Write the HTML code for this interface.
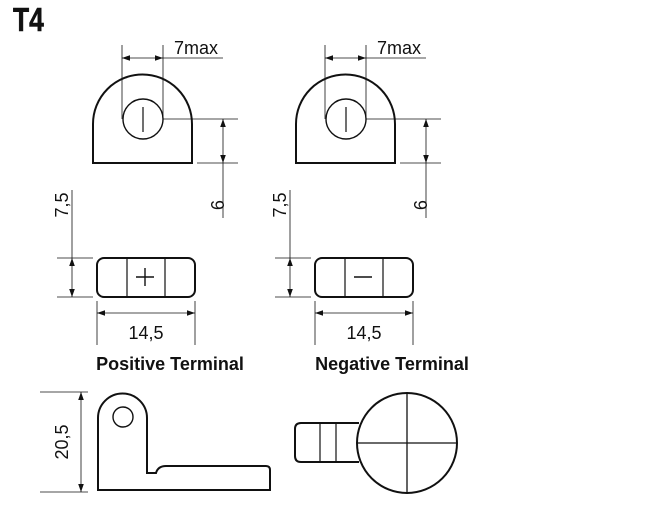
<!DOCTYPE html>
<html><head><meta charset="utf-8"><style>
html,body{margin:0;padding:0;background:#fff;}
svg{display:block;}
text{font-family:"Liberation Sans",sans-serif;fill:#111;}
</style></head><body>
<svg width="650" height="514" viewBox="0 0 650 514" xmlns="http://www.w3.org/2000/svg">
<defs>
<marker id="a" viewBox="0 0 10 10" refX="10" refY="5" markerWidth="8" markerHeight="8" orient="auto-start-reverse" markerUnits="userSpaceOnUse"><path d="M0,1.5 L10,5 L0,8.5z" fill="#111"/></marker>
</defs>
<text x="13" y="31" font-size="33" font-weight="bold" transform="translate(13 0) scale(0.8 1) translate(-13 0)" stroke="#111" stroke-width="0.6">T4</text>

<g id="top" stroke="#111" fill="none">
  <path d="M93,163 L93,124 A49.5,49.5 0 0 1 192,124 L192,163 Z" stroke-width="2"/>
  <circle cx="143" cy="119" r="20" stroke-width="1.4"/>
  <line x1="143" y1="107" x2="143" y2="132" stroke-width="1.2"/>
  <line x1="122" y1="45" x2="122" y2="119" stroke-width="0.8"/>
  <line x1="163" y1="45" x2="163" y2="119" stroke-width="0.8"/>
  <line x1="122" y1="58" x2="163" y2="58" stroke-width="0.8" marker-start="url(#a)" marker-end="url(#a)"/>
  <line x1="163" y1="58" x2="223" y2="58" stroke-width="0.8"/>
  <line x1="163" y1="119" x2="238" y2="119" stroke-width="0.8"/>
  <line x1="197" y1="163" x2="238" y2="163" stroke-width="0.8"/>
  <line x1="223" y1="119" x2="223" y2="163" stroke-width="0.8" marker-start="url(#a)" marker-end="url(#a)"/>
  <line x1="223" y1="163" x2="223" y2="218" stroke-width="0.8"/>
</g>
<text x="174" y="54" font-size="18">7max</text>
<text transform="translate(211 205) rotate(90)" font-size="18" text-anchor="middle">9</text>

<g transform="translate(203 0)" stroke="#111" fill="none">
  <path d="M93,163 L93,124 A49.5,49.5 0 0 1 192,124 L192,163 Z" stroke-width="2"/>
  <circle cx="143" cy="119" r="20" stroke-width="1.4"/>
  <line x1="143" y1="107" x2="143" y2="132" stroke-width="1.2"/>
  <line x1="122" y1="45" x2="122" y2="119" stroke-width="0.8"/>
  <line x1="163" y1="45" x2="163" y2="119" stroke-width="0.8"/>
  <line x1="122" y1="58" x2="163" y2="58" stroke-width="0.8" marker-start="url(#a)" marker-end="url(#a)"/>
  <line x1="163" y1="58" x2="223" y2="58" stroke-width="0.8"/>
  <line x1="163" y1="119" x2="238" y2="119" stroke-width="0.8"/>
  <line x1="197" y1="163" x2="238" y2="163" stroke-width="0.8"/>
  <line x1="223" y1="119" x2="223" y2="163" stroke-width="0.8" marker-start="url(#a)" marker-end="url(#a)"/>
  <line x1="223" y1="163" x2="223" y2="218" stroke-width="0.8"/>
</g>
<text x="377" y="54" font-size="18">7max</text>
<text transform="translate(414 205) rotate(90)" font-size="18" text-anchor="middle">9</text>

<g stroke="#111" fill="none">
  <rect x="97" y="258" width="98" height="39" rx="7" stroke-width="2"/>
  <line x1="127" y1="258" x2="127" y2="297" stroke-width="1.2"/>
  <line x1="165" y1="258" x2="165" y2="297" stroke-width="1.2"/>
  <line x1="136" y1="277" x2="154" y2="277" stroke-width="1.4"/>
  <line x1="145" y1="268" x2="145" y2="286" stroke-width="1.4"/>
  <line x1="57" y1="258" x2="93" y2="258" stroke-width="0.8"/>
  <line x1="57" y1="297" x2="93" y2="297" stroke-width="0.8"/>
  <line x1="72" y1="190" x2="72" y2="258" stroke-width="0.8"/>
  <line x1="72" y1="258" x2="72" y2="297" stroke-width="0.8" marker-start="url(#a)" marker-end="url(#a)"/>
  <line x1="97" y1="301" x2="97" y2="345" stroke-width="0.8"/>
  <line x1="195" y1="301" x2="195" y2="345" stroke-width="0.8"/>
  <line x1="97" y1="313" x2="195" y2="313" stroke-width="0.8" marker-start="url(#a)" marker-end="url(#a)"/>
</g>
<text transform="translate(68 205) rotate(-90)" font-size="18" text-anchor="middle">7,5</text>
<text x="146" y="339" font-size="18" text-anchor="middle">14,5</text>
<text x="170" y="370" font-size="18" font-weight="bold" text-anchor="middle" fill="#222">Positive Terminal</text>

<g transform="translate(218 0)" stroke="#111" fill="none">
  <rect x="97" y="258" width="98" height="39" rx="7" stroke-width="2"/>
  <line x1="127" y1="258" x2="127" y2="297" stroke-width="1.2"/>
  <line x1="165" y1="258" x2="165" y2="297" stroke-width="1.2"/>
  <line x1="136" y1="277" x2="154" y2="277" stroke-width="1.4"/>
  <line x1="57" y1="258" x2="93" y2="258" stroke-width="0.8"/>
  <line x1="57" y1="297" x2="93" y2="297" stroke-width="0.8"/>
  <line x1="72" y1="190" x2="72" y2="258" stroke-width="0.8"/>
  <line x1="72" y1="258" x2="72" y2="297" stroke-width="0.8" marker-start="url(#a)" marker-end="url(#a)"/>
  <line x1="97" y1="301" x2="97" y2="345" stroke-width="0.8"/>
  <line x1="195" y1="301" x2="195" y2="345" stroke-width="0.8"/>
  <line x1="97" y1="313" x2="195" y2="313" stroke-width="0.8" marker-start="url(#a)" marker-end="url(#a)"/>
</g>
<text transform="translate(286 205) rotate(-90)" font-size="18" text-anchor="middle">7,5</text>
<text x="364" y="339" font-size="18" text-anchor="middle">14,5</text>
<text x="392" y="370" font-size="18" font-weight="bold" text-anchor="middle" fill="#222">Negative Terminal</text>

<g stroke="#111" fill="none">
  <line x1="40" y1="392" x2="88" y2="392" stroke-width="0.8"/>
  <line x1="40" y1="492" x2="88" y2="492" stroke-width="0.8"/>
  <line x1="81" y1="392" x2="81" y2="492" stroke-width="0.8" marker-start="url(#a)" marker-end="url(#a)"/>
  <path d="M98,490 L98,418 A24.5,24.5 0 0 1 147,418 L147,473 L156,473 Q158,466 166,466 L266,466 Q270,466 270,470 L270,490 Z" stroke-width="2"/>
  <circle cx="123" cy="417" r="10" stroke-width="1.4"/>
  <circle cx="407" cy="443" r="50" stroke-width="2"/>
  <line x1="357" y1="443" x2="457" y2="443" stroke-width="1.3"/>
  <line x1="407" y1="393" x2="407" y2="493" stroke-width="1.3"/>
  <path d="M359,423 L301,423 Q295,423 295,429 L295,456 Q295,462 301,462 L359,462" stroke-width="2"/>
  <line x1="320" y1="423" x2="320" y2="462" stroke-width="1.2"/>
  <line x1="336" y1="423" x2="336" y2="462" stroke-width="1.2"/>
</g>
<text transform="translate(68 442) rotate(-90)" font-size="18" text-anchor="middle">20,5</text>
</svg>
</body></html>
